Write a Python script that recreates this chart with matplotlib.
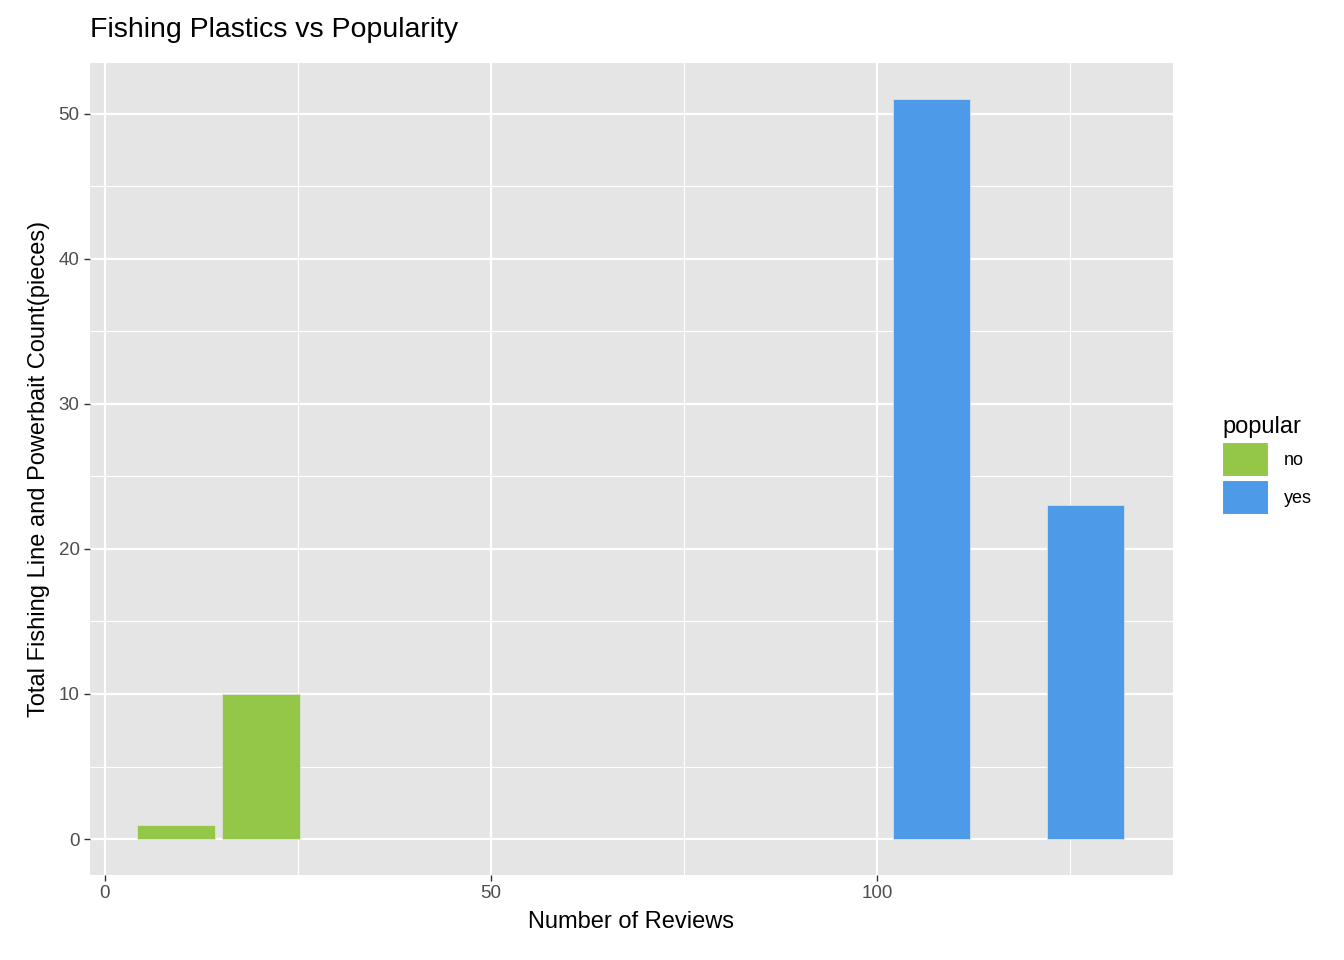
import matplotlib.pyplot as plt
from matplotlib.patches import Patch

reviews = [9.2, 20.2, 107.0, 127.0]
counts = [1, 10, 51, 23]
popular = ["no", "no", "yes", "yes"]
colors = {"no": "#94C647", "yes": "#4D9AE8"}

plt.rcParams["font.family"] = ["Liberation Sans", "DejaVu Sans"]
fig = plt.figure(figsize=(13.44, 9.6), dpi=100)
ax = fig.add_axes([90 / 1344, 1 - 875 / 960, (1173 - 90) / 1344, (875 - 63) / 960])
ax.set_facecolor("#E5E5E5")
for s in ax.spines.values():
    s.set_visible(False)

for v in [25, 75, 125]:
    ax.axvline(v, color="white", lw=0.8, zorder=0)
for v in [5, 15, 25, 35, 45]:
    ax.axhline(v, color="white", lw=0.8, zorder=0)
for v in [0, 50, 100]:
    ax.axvline(v, color="white", lw=1.6, zorder=0)
for v in [0, 10, 20, 30, 40, 50]:
    ax.axhline(v, color="white", lw=1.6, zorder=0)

ax.bar(reviews, counts, width=10, color=[colors[p] for p in popular],
       edgecolor="#E5E5E5", linewidth=0.5, zorder=2)

ax.set_xlim(-1.94, 138.3)
ax.set_ylim(-2.48, 53.5)
ax.set_xticks([0, 50, 100])
ax.set_yticks([0, 10, 20, 30, 40, 50])
ax.tick_params(colors="#333333", labelsize=13.5, length=4, width=1)
for lab in ax.get_xticklabels() + ax.get_yticklabels():
    lab.set_color("#4D4D4D")
ax.set_xlabel("Number of Reviews", fontsize=17, labelpad=6)
ax.set_ylabel("Total Fishing Line and Powerbait Count(pieces)", fontsize=17, labelpad=6)
fig.text(90 / 1344, 1 - 30 / 960, "Fishing Plastics vs Popularity", fontsize=20.5, va="center")

handles = [Patch(facecolor=colors[k], edgecolor="white", linewidth=1.5) for k in colors]
leg = fig.legend(handles, list(colors), title="popular", loc="upper left",
                 bbox_to_anchor=(1206 / 1344, 1 - 400 / 960), frameon=False,
                 fontsize=13, title_fontsize=17, handlelength=2.6, handleheight=2.6,
                 handletextpad=0.8, labelspacing=0.2)
leg._legend_box.align = "left"

fig.savefig("out.png", dpi=100)
